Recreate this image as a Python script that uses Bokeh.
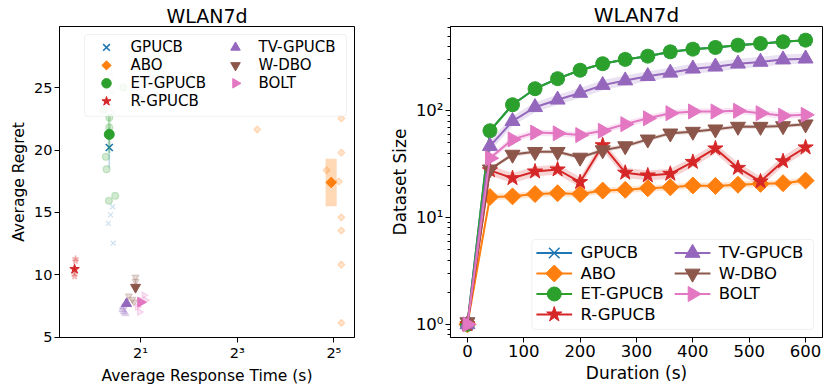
import numpy as np
from bokeh.plotting import figure
from bokeh.layouts import row
from bokeh.models import FixedTicker, Range1d, LinearScale, BoxAnnotation
from bokeh.core.properties import value
from bokeh.embed import file_html
from bokeh.resources import INLINE

FONT = "DejaVu Sans"

methods = ["GPUCB", "ABO", "ET-GPUCB", "R-GPUCB", "TV-GPUCB", "W-DBO", "BOLT"]
colors = ["#1f77b4", "#ff7f0e", "#2ca02c", "#d62728", "#9467bd", "#8c564b", "#e377c2"]
markers = ["x", "square", "circle", "star", "triangle", "inverted_triangle", "triangle"]
angles = [0, np.pi / 4, 0, 0, 0, 0, -np.pi / 2]

# ---------------- left panel: regret vs response time ----------------
mean_time = [1.276, 30.8, 1.276, 0.776, 1.636, 1.86, 2.0]
mean_regret = [20.2, 17.4, 21.25, 10.45, 7.69, 9.0, 7.8]
time_lo = [1.262, 28.4, 1.25, 0.771, 1.62, 1.84, 1.98]
time_hi = [1.29, 33.3, 1.30, 0.781, 1.65, 1.88, 2.02]
regret_lo = [18.6, 15.5, 19.75, 9.95, 7.3, 8.5, 7.4]
regret_hi = [21.8, 19.3, 22.75, 10.95, 8.1, 9.5, 8.2]

run_time_gpucb = [1.30, 1.33, 1.34, 1.34, 1.30, 1.26, 1.35]
run_regret_gpucb = [26.1, 24.6, 23.0, 15.45, 14.8, 14.12, 12.53]
run_time_abo = [10.66, 28.8, 35.6, 35.6, 34.4, 35.6, 35.6, 35.6, 35.6]
run_regret_abo = [21.65, 18.38, 22.53, 19.79, 17.47, 14.6, 13.54, 10.8, 6.14]
run_time_et = [1.56, 1.18, 1.276, 1.276, 1.216, 1.228, 1.27, 1.39]
run_regret_et = [25.0, 23.2, 22.6, 21.8, 19.45, 18.46, 15.93, 16.33]
run_time_rg = [0.787, 0.787, 0.776, 0.776]
run_regret_rg = [11.28, 11.1, 10.08, 9.87]
run_time_tv = [1.55, 1.57, 1.61, 1.54]
run_regret_tv = [7.42, 7.02, 6.89, 7.2]
run_time_wdbo = [1.69, 1.78, 1.86, 1.86, 1.82]
run_regret_wdbo = [8.3, 8.03, 9.81, 9.47, 7.82]
run_time_bolt = [2.10, 2.15, 1.97, 1.91]
run_regret_bolt = [8.35, 7.95, 7.02, 7.42]

run_times = [run_time_gpucb, run_time_abo, run_time_et, run_time_rg,
             run_time_tv, run_time_wdbo, run_time_bolt]
run_regrets = [run_regret_gpucb, run_regret_abo, run_regret_et, run_regret_rg,
               run_regret_tv, run_regret_wdbo, run_regret_bolt]

left_xticks = [2, 8, 32]
left_xtick_labels = {2: "2\u00b9", 8: "2\u00b3", 32: "2\u2075"}
left_yticks = [5, 10, 15, 20, 25]

# ---------------- right panel: dataset size vs duration ----------------
duration = [0, 40, 80, 120, 160, 200, 240, 280, 320, 360, 400, 440, 480, 520, 560, 600]
size_gpucb = [1, 65, 114, 161, 200, 240, 276, 303, 325, 357, 378, 392, 412, 427, 443, 459]
size_abo = [1, 15.6, 15.8, 16.6, 16.9, 16.6, 17.9, 18.2, 18.8, 19.2, 20, 19.8, 20.3, 20.7, 21, 22.2]
size_et = [1, 65, 114, 161, 200, 240, 276, 303, 325, 357, 378, 392, 412, 427, 443, 459]
size_rg = [1, 27.7, 23.4, 27, 28.2, 21.5, 47.6, 26.3, 24.8, 25.7, 33.2, 44.4, 29.2, 21.8, 33.7, 45.4]
size_tv = [1, 46.7, 80, 108, 127, 147, 174, 192, 211, 227, 248, 259, 276, 287, 302, 308]
size_wdbo = [1.05, 28.3, 38.9, 41.3, 41.3, 36.5, 42.8, 46.7, 54, 61.5, 63.8, 67.1, 71.1, 71, 72, 74.8]
size_bolt = [1, 36, 54, 62.5, 61.5, 59.3, 65, 75, 85, 95, 98.6, 98.6, 100, 95, 90, 91.7]
sizes = [size_gpucb, size_abo, size_et, size_rg, size_tv, size_wdbo, size_bolt]
band_rel = [1.02, 1.07, 1.02, 1.115, 1.115, 1.045, 1.07]

right_xticks = [0, 100, 200, 300, 400, 500, 600]
right_yticks = [1, 10, 100]
right_ytick_labels = {1: "10\u2070", 10: "10\u00b9", 100: "10\u00b2"}
right_yminor = [0.8, 0.9, 2, 3, 4, 5, 6, 7, 8, 9, 20, 30, 40, 50, 60, 70, 80, 90,
                200, 300, 400, 500, 600]

# nominal frame sizes (px) used for legend layout coordinates
FW1, FH1 = 295, 312
FW2, FH2 = 375, 308


def style(p, tick_size, label_size, title_size):
    p.title.text_font = FONT
    p.title.text_font_size = title_size
    p.title.text_font_style = "normal"
    p.title.text_color = "black"
    p.title.align = "center"
    p.title.standoff = 0
    p.outline_line_color = "black"
    p.outline_line_width = 1
    p.outline_line_alpha = 1
    p.xgrid.visible = False
    p.ygrid.visible = False
    for ax in p.axis:
        ax.axis_line_color = "black"
        ax.major_tick_line_color = "black"
        ax.minor_tick_line_color = "black"
        ax.major_tick_out = 5
        ax.major_tick_in = 0
        ax.minor_tick_out = 3
        ax.minor_tick_in = 0
        ax.major_label_text_font = FONT
        ax.major_label_text_font_size = tick_size
        ax.major_label_text_color = "black"
        ax.axis_label_text_font = FONT
        ax.axis_label_text_font_size = label_size
        ax.axis_label_text_font_style = "normal"
        ax.axis_label_text_color = "black"
        ax.major_label_standoff = 2
        ax.axis_label_standoff = 3


def add_px_ranges(p, fw, fh):
    p.extra_x_ranges = {"px": Range1d(0, fw)}
    p.extra_y_ranges = {"py": Range1d(0, fh)}
    p.extra_x_scales = {"px": LinearScale()}
    p.extra_y_scales = {"py": LinearScale()}


# ---------- left figure ----------
p1 = figure(width=386, height=389, x_axis_type="log",
            x_range=Range1d(0.625, 43), y_range=Range1d(4.97, 29.9),
            title="WLAN7d", output_backend="svg", toolbar_location=None,
            min_border_left=59, min_border_right=32, min_border_top=20,
            min_border_bottom=52)
p1.xaxis.axis_label = "Average Response Time (s)"
p1.yaxis.axis_label = "Average Regret"
p1.xaxis.ticker = FixedTicker(ticks=left_xticks)
p1.xaxis.major_label_overrides = left_xtick_labels
p1.yaxis.ticker = FixedTicker(ticks=left_yticks)
style(p1, "14.5px", "15.5px", "19px")
add_px_ranges(p1, FW1, FH1)

for i, m in enumerate(methods):
    c = colors[i]
    p1.quad(left=[time_lo[i]], right=[time_hi[i]], bottom=[regret_lo[i]], top=[regret_hi[i]],
            fill_color=c, fill_alpha=0.3, line_color=None)
    p1.scatter(run_times[i], run_regrets[i], marker=markers[i], angle=angles[i],
               size=(5 if m == "ABO" else 7), fill_color=c, line_color=c,
               fill_alpha=0.22, line_alpha=0.22, line_width=1.2)
    p1.scatter([mean_time[i]], [mean_regret[i]], marker=markers[i], angle=angles[i],
               size=(7.5 if m == "ABO" else 10), fill_color=c, line_color=c,
               line_width=1.6 if m == "GPUCB" else 1)

# legend (left): box, markers, labels in frame-pixel layout coordinates
leg_cols = [0, 0, 0, 0, 1, 1, 1]
leg_rows = [0, 1, 2, 3, 0, 1, 2]
l1_right = FW1 - 8
l1_left = l1_right - 262
l1_top = FH1 - 8
l1_bottom = l1_top - 82
p1.add_layout(BoxAnnotation(left=l1_left, right=l1_right, bottom=l1_bottom, top=l1_top,
                            x_range_name="px", y_range_name="py",
                            fill_color="white", fill_alpha=0.8, line_color="#cccccc",
                            line_width=1, border_radius=3))
l1_mx = [l1_left + (22 if c == 0 else 151) for c in leg_cols]
l1_tx = [l1_left + (46 if c == 0 else 174) for c in leg_cols]
l1_y = [l1_top - 13 - 18 * r for r in leg_rows]
for i, m in enumerate(methods):
    p1.scatter([l1_mx[i]], [l1_y[i]], marker=markers[i], angle=angles[i],
               size=(6.5 if m == "ABO" else 9.5), fill_color=colors[i], line_color=colors[i],
               line_width=1.6 if m == "GPUCB" else 1,
               x_range_name="px", y_range_name="py", level="overlay")
p1.text(l1_tx, l1_y, text=methods, text_font=value(FONT), text_font_size=value("15px"),
        text_baseline="middle", text_align="left", text_color="black",
        x_range_name="px", y_range_name="py", level="overlay")

# ---------- right figure ----------
p2 = figure(width=437, height=389, y_axis_type="log",
            x_range=Range1d(-30, 630), y_range=Range1d(0.753, 616),
            title="WLAN7d", output_backend="svg", toolbar_location=None,
            min_border_left=64, min_border_right=1, min_border_top=24,
            min_border_bottom=52)
p2.xaxis.axis_label = "Duration (s)"
p2.yaxis.axis_label = "Dataset Size"
p2.xaxis.ticker = FixedTicker(ticks=right_xticks)
p2.yaxis.ticker = FixedTicker(ticks=right_yticks, minor_ticks=right_yminor)
p2.yaxis.major_label_overrides = right_ytick_labels
style(p2, "16.5px", "17px", "20px")
add_px_ranges(p2, FW2, FH2)

msize = [15, 12, 14, 16, 15, 15, 15]
for i, m in enumerate(methods):
    c = colors[i]
    lo = [v / band_rel[i] for v in sizes[i]]
    hi = [v * band_rel[i] for v in sizes[i]]
    p2.varea(x=duration, y1=lo, y2=hi, fill_color=c, fill_alpha=0.2)
    p2.line(duration, sizes[i], line_color=c, line_width=2)
    p2.scatter(duration, sizes[i], marker=markers[i], angle=angles[i], size=msize[i],
               fill_color=c, line_color=c, line_width=1.5 if m == "GPUCB" else 1)

# legend (right)
l2_right = FW2 - 9
l2_left = l2_right - 284
l2_bottom = 8
l2_top = l2_bottom + 89
p2.add_layout(BoxAnnotation(left=l2_left, right=l2_right, bottom=l2_bottom, top=l2_top,
                            x_range_name="px", y_range_name="py",
                            fill_color="white", fill_alpha=0.8, line_color="#cccccc",
                            line_width=1, border_radius=3))
l2_x0 = [l2_left + 4.6 + 139.4 * c for c in leg_cols]
l2_x1 = [x + 36 for x in l2_x0]
l2_mx = [x + 18 for x in l2_x0]
l2_tx = [x + 44.4 for x in l2_x0]
l2_y = [l2_top - 13.3 - 20.3 * r for r in leg_rows]
p2.segment(l2_x0, l2_y, l2_x1, l2_y, line_color=colors, line_width=2,
           x_range_name="px", y_range_name="py", level="overlay")
for i, m in enumerate(methods):
    p2.scatter([l2_mx[i]], [l2_y[i]], marker=markers[i], angle=angles[i], size=msize[i],
               fill_color=colors[i], line_color=colors[i],
               line_width=1.5 if m == "GPUCB" else 1,
               x_range_name="px", y_range_name="py", level="overlay")
p2.text(l2_tx, l2_y, text=methods, text_font=value(FONT), text_font_size=value("16.5px"),
        text_baseline="middle", text_align="left", text_color="black",
        x_range_name="px", y_range_name="py", level="overlay")

layout = row(p1, p2)
open("out.html", "w").write(file_html(layout, INLINE))
